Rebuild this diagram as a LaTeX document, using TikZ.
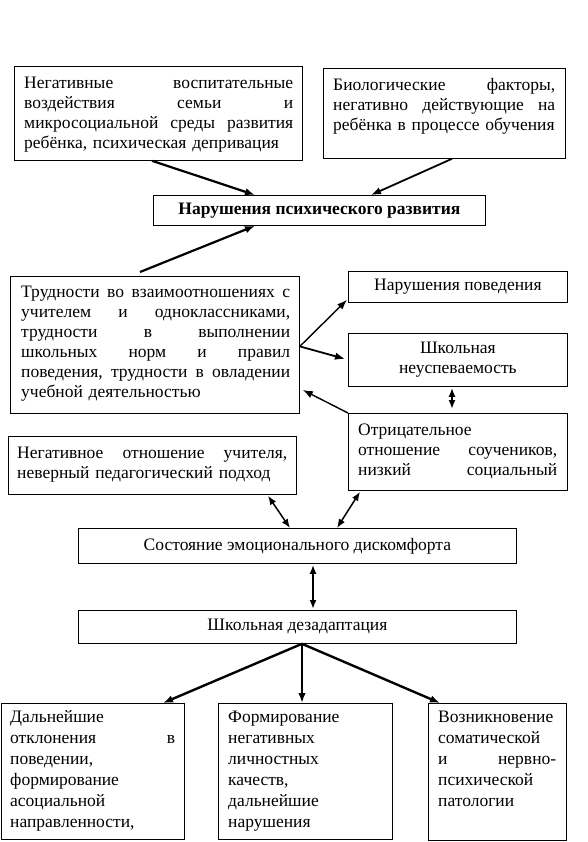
\documentclass[tikz,border=0pt]{standalone}
\usepackage{fontspec}
\setmainfont{Liberation Serif}
\usetikzlibrary{arrows.meta,calc}
\newcommand{\jl}[1]{\leavevmode\hbox to \linewidth{#1}}
\newcommand{\hg}{\hskip 2pt plus 1fill}
\begin{document}
\begin{tikzpicture}[x=1pt,y=-1pt,
  frame/.style={draw, line width=0.8pt, anchor=north west, inner sep=0pt},
  cfont/.style={font=\fontsize{17.5}{20}\selectfont, align=center},
  txt/.style={anchor=north west, inner sep=0pt, align=left, font=\fontsize{17.5}{20}\selectfont},
  btxt/.style={anchor=north west, inner sep=0pt, align=left, font=\fontsize{17.5}{21}\selectfont},
  arr/.style={line width=#1, -{Latex[length=10pt,width=7.5pt]}},
  arr/.default=2pt,
  darr/.style={line width=#1, {Latex[length=9pt,width=7pt]}-{Latex[length=9pt,width=7pt]}},
  darr/.default=1.5pt,
]
\fill[white] (0,0) rectangle (587,842);
\useasboundingbox (0,0) rectangle (587,842);

% frames
\node[frame, minimum width=288pt, minimum height=94pt] (A) at (14,66) {};
\node[frame, minimum width=242pt, minimum height=90pt] (B) at (323,68) {};
\node[frame, minimum width=332pt, minimum height=30pt, cfont, font=\fontsize{17.5}{20}\selectfont\bfseries] (C) at (153,195) {Нарушения психического развития};
\node[frame, minimum width=289pt, minimum height=137pt] (D) at (10,276) {};
\node[frame, minimum width=219pt, minimum height=31pt, cfont] (E) at (348,271) {Нарушения поведения};
\node[frame, minimum width=219pt, minimum height=53pt, cfont] (F) at (348,333) {Школьная\\неуспеваемость};
\node[frame, minimum width=219pt, minimum height=77pt] (G) at (348,413) {};
\node[frame, minimum width=288pt, minimum height=58pt] (H) at (8,436) {};
\node[frame, minimum width=438pt, minimum height=35pt, cfont] (I) at (78,528) {Состояние эмоционального дискомфорта};
\node[frame, minimum width=438pt, minimum height=33pt, cfont] (J) at (78,610) {Школьная дезадаптация};
\node[frame, minimum width=183pt, minimum height=136pt] (K) at (1,703) {};
\node[frame, minimum width=174pt, minimum height=136pt] (L) at (218,703) {};
\node[frame, minimum width=138pt, minimum height=137pt] (M) at (428,703) {};

% texts
\node[txt, text width=269pt] (At) at ($(A.north west)+(10,8)$) {\strut\jl{Негативные\hg воспитательные}\\
  \jl{воздействия\hg семьи\hg и}\\
  \jl{микросоциальной\hg среды\hg развития}\\
  ребёнка, психическая депривация};
\node[txt, text width=222pt] (Bt) at ($(B.north west)+(10,8)$) {\strut\jl{Биологические\hg факторы,}\\
  \jl{негативно\hg действующие\hg на}\\
  ребёнка в процессе обучения};
\node[txt, text width=269pt] (Dt) at ($(D.north west)+(11,7)$) {\strut\jl{Трудности\hg во\hg взаимоотношениях\hg с}\\
  \jl{учителем\hg и\hg одноклассниками,}\\
  \jl{трудности\hg в\hg выполнении}\\
  \jl{школьных\hg норм\hg и\hg правил}\\
  \jl{поведения,\hg трудности\hg в\hg овладении}\\
  учебной деятельностью};
\node[txt, text width=199pt] (Gt) at ($(G.north west)+(10,8)$) {\strut Отрицательное\\
  \jl{отношение\hg соучеников,}\\
  \jl{низкий\hg социальный}};
\node[txt, text width=270pt] (Ht) at ($(H.north west)+(9,8)$) {\strut\jl{Негативное\hg отношение\hg учителя,}\\
  неверный педагогический подход};
\node[btxt, text width=165pt] (Kt) at ($(K.north west)+(9,5)$) {\strut Дальнейшие\\
  \jl{отклонения\hg в}\\
  поведении,\\
  формирование\\
  асоциальной\\
  направленности,};
\node[btxt, text width=155pt] (Lt) at ($(L.north west)+(10,5)$) {\strut Формирование\\
  негативных\\
  личностных\\
  качеств,\\
  дальнейшие\\
  нарушения};
\node[btxt, text width=118pt] (Mt) at ($(M.north west)+(10,5)$) {\strut Возникновение\\
  соматической\\
  \jl{и\hg нервно-}\\
  психической\\
  патологии};

% connectors
\draw[arr=2.2pt] ($(A.south west)+(138,0)$) -- ($(C.north west)+(102,0)$);
\draw[arr=1.8pt] ($(B.south west)+(129,0)$) -- ($(C.north west)+(218,0)$);
\draw[arr=2.2pt] ($(D.north west)+(130,-4)$) -- ($(C.south west)+(102,0)$);
\draw[arr=1.4pt] ($(D.east)+(0,1.5)$) -- ($(E.south west)+(-1,-3)$);
\draw[arr=1.8pt] ($(D.east)+(0,1.5)$) -- ($(F.west)+(-3,-1)$);
\draw[arr=1.4pt] (G.north west) -- ($(D.north east)+(3,114)$);
\draw[darr=1.8pt] ($(F.south west)+(104,1)$) -- ($(G.north west)+(104,-4)$);
\draw[darr=1.5pt] ($(H.south west)+(260,1)$) -- ($(I.north west)+(212,0)$);
\draw[darr=1.5pt] ($(G.south west)+(12,1)$) -- ($(I.north west)+(259,0)$);
\draw[darr=2pt] ($(I.south west)+(235,1)$) -- ($(J.north west)+(235,-1)$);
\draw[arr=2.4pt] ($(J.south west)+(224,0)$) -- ($(K.north west)+(162,0)$);
\draw[arr=2.4pt] ($(J.south west)+(224,0)$) -- ($(L.north west)+(84,0)$);
\draw[arr=2.4pt] ($(J.south west)+(224,0)$) -- ($(M.north west)+(12,0)$);
\end{tikzpicture}
\end{document}
